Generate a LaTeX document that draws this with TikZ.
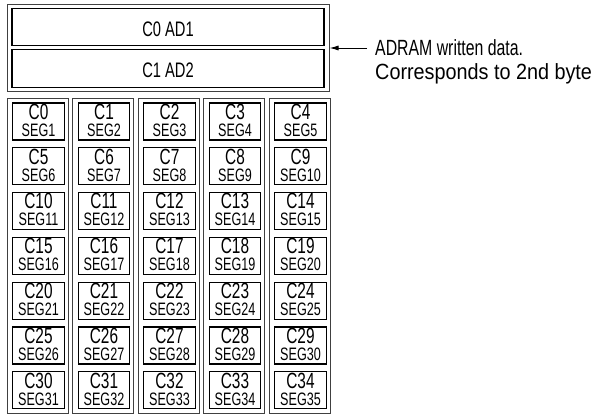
\documentclass[tikz,border=0pt]{standalone}
\usepackage{fontspec}
\setmainfont{Liberation Sans}[FakeStretch=0.7]
\newfontfamily\notea{Liberation Sans}[FakeStretch=0.72]
\newfontfamily\noteb{Liberation Sans}[FakeStretch=0.9]
\usetikzlibrary{arrows.meta,calc}
\tikzset{
  outerbox/.style={draw=black!75, line width=1pt, fill=white, inner sep=0pt},
  innerbox/.style={draw=black, line width=1.3pt, inner sep=0pt},
  bigtxt/.style={inner sep=0pt, anchor=base, font=\fontsize{21}{22}\selectfont},
  ctxt/.style={inner sep=0pt, anchor=base, font=\fontsize{22}{22}\selectfont},
  stxt/.style={inner sep=0pt, anchor=base, font=\fontsize{18}{18}\selectfont},
  notetxt/.style={inner sep=0pt, anchor=base west},
}
\begin{document}
\begin{tikzpicture}[x=1pt,y=-1pt]
\useasboundingbox (0,0) rectangle (596,415);
% top block
\node[outerbox, minimum width=322, minimum height=87] (top) at (168,47.5) {};
\node[innerbox, minimum width=312, minimum height=37.5] (ad1) at (168,27) {};
\node[innerbox, minimum width=312, minimum height=37.5] (ad2) at (168,68.5) {};
\node[bigtxt] (ad1t) at ($(ad1.north)+(0,28.5)$) {C0 AD1};
\node[bigtxt] (ad2t) at ($(ad2.north)+(0,28.5)$) {C1 AD2};
% note
\coordinate (arrstart) at (367,48);
\draw[line width=1pt, -{Latex[length=9pt,width=5pt]}] (arrstart) -- (top.east |- arrstart);
\node[notetxt, font=\notea\fontsize{22}{22}\selectfont] (note1) at (375,55) {ADRAM written data.};
\node[notetxt, font=\noteb\fontsize{22}{22}\selectfont] (note2) at (375,79) {Corresponds to 2nd byte};
% columns
\foreach \i in {0,...,4} {
  \node[outerbox, minimum width=61, minimum height=315] (col\i) at ({37.5+65.5*\i},255.5) {};
}
\foreach \j in {0,...,6} {
  \foreach \i in {0,...,4} {
    \pgfmathtruncatemacro{\n}{5*\j+\i}
    \pgfmathtruncatemacro{\s}{\n+1}
    \node[innerbox, minimum width=51.5, minimum height=37] (cell\n) at ({38.5+65.5*\i},{121.5+44.8*\j}) {};
    \node[ctxt] (ct\n) at ($(cell\n.north)+(0,17)$) {C\n};
    \node[stxt] (st\n) at ($(cell\n.north)+(0,34)$) {SEG\s};
  }
}
\end{tikzpicture}
\end{document}
